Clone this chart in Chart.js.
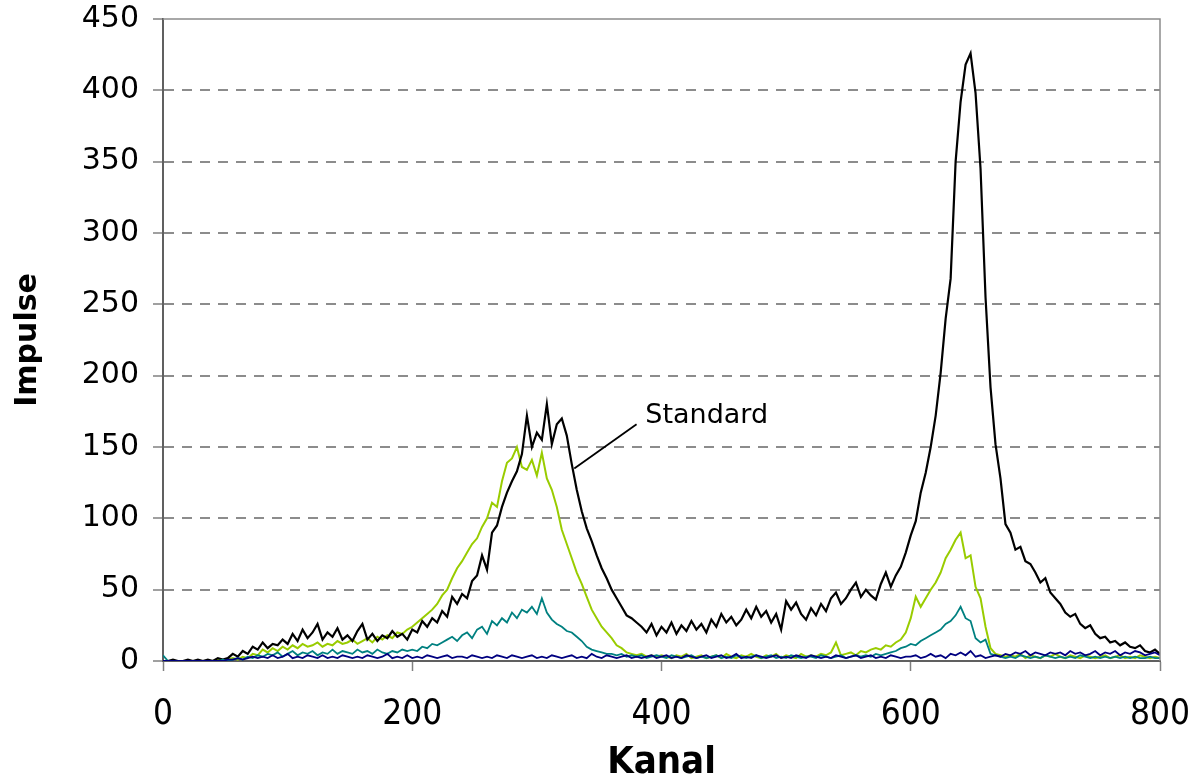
<!DOCTYPE html>
<html>
<head>
<meta charset="utf-8">
<script src="https://cdn.jsdelivr.net/npm/chart.js@4"></script>
<style>
  html, body { margin: 0; padding: 0; background: #fff; }
  #wrap { width: 1199px; height: 780px; }
</style>
</head>
<body>
<div id="wrap"><canvas id="spektrum"></canvas></div>
<script>
// channel grid: one reading every 4 channels, 0..800
const kanal = Array.from({ length: 201 }, (_, i) => i * 4);

// black curve, labelled "Standard"
const standard = [
  0, 0, 1, 0, 0, 1, 0, 1, 0, 1,
  0, 2, 1, 2, 5, 3, 7, 5, 10, 8,
  13, 9, 12, 11, 15, 12, 19, 14, 22, 16,
  20, 26, 15, 20, 17, 23, 15, 18, 14, 21,
  26, 15, 19, 14, 18, 16, 21, 17, 19, 15,
  22, 20, 28, 24, 30, 27, 35, 31, 45, 40,
  47, 44, 56, 60, 74, 64, 90, 95, 108, 118,
  126, 133, 145, 172, 150, 160, 155, 180, 152, 166,
  170, 158, 138, 120, 105, 93, 84, 74, 65, 58,
  50, 44, 38, 32, 30, 27, 24, 20, 26, 18,
  24, 20, 27, 19, 25, 21, 28, 22, 26, 20,
  29, 24, 33, 27, 31, 25, 29, 36, 30, 38,
  31, 35, 27, 33, 22, 42, 36, 41, 33, 29,
  37, 32, 40, 35, 44, 48, 40, 44, 50, 55,
  45, 50, 46, 43, 54, 62, 52, 60, 66, 76,
  88, 98, 118, 132, 150, 172, 202, 240, 268, 350,
  392, 418, 426, 398, 345, 255, 192, 152, 128, 96,
  90, 78, 80, 70, 68, 62, 55, 58, 48, 44,
  40, 34, 31, 33, 26, 23, 25, 19, 16, 17,
  13, 14, 11, 13, 10, 9, 11, 7, 6, 8,
  5
];

// yellow-green curve
const probeGruen = [
  0, 0, 0, 0, 0, 0, 0, 0, 0, 0,
  0, 1, 0, 1, 2, 1, 3, 2, 5, 4,
  8, 6, 9, 7, 10, 8, 11, 9, 12, 10,
  11, 13, 10, 12, 11, 14, 12, 13, 15, 12,
  14, 16, 13, 17, 15, 18, 16, 20, 19, 22,
  24, 27, 30, 33, 36, 40, 46, 50, 58, 65,
  70, 76, 82, 86, 94, 100, 111, 108, 126, 139,
  142, 150, 136, 134, 141, 130, 146, 128, 120, 108,
  92, 82, 72, 62, 54, 45, 36, 30, 24, 20,
  16, 11, 9, 6, 5, 4, 5, 3, 4, 3,
  4, 3, 2, 4, 3, 5, 2, 3, 4, 2,
  3, 4, 2, 5, 3, 2, 4, 3, 5, 3,
  2, 4, 3, 5, 2, 4, 3, 2, 5, 3,
  4, 3, 5, 4, 6, 13, 4, 5, 6, 4,
  7, 6, 8, 9, 8, 11, 10, 13, 15, 20,
  30, 45, 38, 44, 50, 55, 62, 72, 78, 85,
  90, 72, 74, 52, 44, 24, 9, 5, 4, 3,
  4, 3, 5, 2, 4, 3, 2, 4, 3, 5,
  3, 2, 4, 3, 2, 4, 3, 2, 3, 4,
  2, 3, 4, 2, 3, 2, 4, 3, 2, 3,
  2
];

// teal curve
const probeTuerkis = [
  4, 0, 0, 0, 0, 0, 0, 0, 0, 0,
  0, 0, 1, 0, 1, 2, 1, 3, 2, 4,
  3, 5, 4, 6, 3, 5, 7, 4, 6, 5,
  7, 4, 6, 5, 8, 5, 7, 6, 5, 8,
  6, 7, 5, 8, 6, 5, 7, 6, 8, 7,
  8, 7, 10, 9, 12, 11, 13, 15, 17, 14,
  18, 20, 16, 22, 24, 19, 28, 25, 30, 27,
  34, 30, 36, 34, 38, 33, 44, 34, 29, 26,
  24, 21, 20, 17, 14, 10, 8, 7, 6, 5,
  5, 4, 5, 3, 4, 3, 4, 2, 3, 4,
  3, 2, 4, 3, 2, 3, 4, 2, 3, 2,
  3, 4, 2, 3, 2, 4, 3, 2, 3, 4,
  2, 3, 4, 2, 3, 2, 4, 3, 2, 3,
  3, 2, 4, 3, 2, 3, 4, 2, 3, 4,
  3, 4, 3, 5, 4, 5, 6, 7, 9, 10,
  12, 11, 14, 16, 18, 20, 22, 26, 28, 32,
  38, 30, 28, 16, 13, 15, 5, 4, 3, 2,
  3, 2, 4, 3, 2, 3, 2, 4, 3, 2,
  3, 2, 3, 2, 4, 3, 2, 3, 2, 3,
  2, 3, 2, 3, 2, 3, 2, 2, 3, 2,
  2
];

// dark blue curve
const probeBlau = [
  0, 0, 0, 0, 0, 0, 0, 0, 0, 0,
  0, 0, 0, 1, 1, 2, 1, 2, 3, 2,
  3, 2, 4, 2, 3, 5, 2, 3, 2, 4,
  3, 2, 4, 2, 3, 2, 4, 3, 2, 3,
  2, 4, 3, 2, 3, 5, 2, 3, 2, 4,
  2, 3, 2, 4, 3, 2, 3, 4, 2, 3,
  3, 2, 4, 3, 2, 3, 2, 4, 3, 2,
  4, 3, 2, 3, 4, 2, 3, 2, 4, 3,
  2, 3, 4, 2, 3, 2, 5, 3, 2, 4,
  3, 2, 3, 4, 2, 3, 2, 3, 4, 2,
  3, 4, 2, 3, 2, 4, 3, 2, 3, 4,
  2, 3, 4, 2, 3, 5, 2, 3, 2, 4,
  3, 2, 3, 4, 2, 3, 2, 4, 3, 2,
  4, 3, 2, 3, 2, 4, 3, 2, 3, 4,
  2, 3, 4, 2, 3, 2, 4, 3, 2, 3,
  3, 4, 2, 3, 5, 3, 4, 2, 5, 4,
  6, 4, 7, 3, 4, 2, 3, 4, 3, 5,
  4, 6, 5, 7, 4, 6, 5, 4, 6, 5,
  6, 4, 7, 5, 6, 4, 5, 7, 4, 6,
  5, 7, 4, 6, 5, 7, 6, 4, 5, 6,
  4
];

const yTicks = [0, 50, 100, 150, 200, 250, 300, 350, 400, 450];
const xTicks = [0, 200, 400, 600, 800];

// label "Standard" with its leader line, in data units
const standardLabel = { text: "Standard", x: 387, y: 172 };
const standardLeader = { from: [380, 166], to: [330, 135] };

function punkte(werte) {
  return kanal.map((k, i) => ({ x: k, y: werte[i] }));
}

const rahmen = {
  id: "rahmen",
  afterDatasetsDraw(chart) {
    const { ctx, chartArea: a, scales } = chart;
    ctx.save();
    // frame on top and right like the original plot area
    ctx.strokeStyle = "#8c8c8c";
    ctx.lineWidth = 1.5;
    ctx.beginPath();
    ctx.moveTo(a.left, a.top);
    ctx.lineTo(a.right, a.top);
    ctx.lineTo(a.right, a.bottom);
    ctx.stroke();

    const xs = scales.x, ys = scales.y;
    ctx.strokeStyle = "#000";
    ctx.lineWidth = 1.8;
    ctx.beginPath();
    ctx.moveTo(xs.getPixelForValue(standardLeader.from[0]), ys.getPixelForValue(standardLeader.from[1]));
    ctx.lineTo(xs.getPixelForValue(standardLeader.to[0]), ys.getPixelForValue(standardLeader.to[1]));
    ctx.stroke();

    ctx.fillStyle = "#000";
    ctx.font = "27px 'DejaVu Sans', Verdana, sans-serif";
    ctx.textBaseline = "middle";
    ctx.textAlign = "left";
    ctx.fillText(standardLabel.text, xs.getPixelForValue(standardLabel.x), ys.getPixelForValue(standardLabel.y));
    ctx.restore();
  }
};

const ctx = document.getElementById("spektrum").getContext("2d");
new Chart(ctx, {
  type: "line",
  data: {
    datasets: [
      { label: "Blau", data: punkte(probeBlau), borderColor: "#000080", borderWidth: 1.8, order: 0 },
      { label: "Türkis", data: punkte(probeTuerkis), borderColor: "#008080", borderWidth: 1.8, order: 1 },
      { label: "Standard", data: punkte(standard), borderColor: "#000000", borderWidth: 2.2, order: 2 },
      { label: "Grün", data: punkte(probeGruen), borderColor: "#99cc00", borderWidth: 2, order: 3 }
    ]
  },
  options: {
    responsive: true,
    maintainAspectRatio: false,
    animation: false,
    layout: { padding: { top: 19, right: 39, left: 0, bottom: 0 } },
    elements: {
      point: { radius: 0 },
      line: { tension: 0 }
    },
    plugins: {
      legend: { display: false },
      tooltip: { enabled: false }
    },
    scales: {
      x: {
        type: "linear",
        min: 0,
        max: 800,
        afterFit(scale) {
          scale.height = 119;
          scale.paddingLeft = 0;
          scale.paddingRight = 0;
        },
        afterBuildTicks(scale) { scale.ticks = xTicks.map(v => ({ value: v })); },
        grid: {
          drawOnChartArea: false,
          drawTicks: true,
          tickLength: 10,
          tickColor: "#808080",
          tickWidth: 1.5
        },
        border: { display: true, color: "#606060", width: 2 },
        ticks: {
          color: "#000",
          padding: 23,
          font: { family: "'Liberation Sans Narrow', 'DejaVu Sans Condensed', sans-serif", size: 35 }
        },
        title: {
          display: true,
          text: "Kanal",
          color: "#000",
          padding: { top: 0, bottom: 0 },
          font: { family: "'Liberation Sans Narrow', 'DejaVu Sans Condensed', sans-serif", size: 38, weight: "bold", lineHeight: 0.9 }
        }
      },
      y: {
        min: 0,
        max: 450,
        afterFit(scale) {
          scale.width = 163;
          scale.paddingTop = 0;
          scale.paddingBottom = 0;
        },
        afterBuildTicks(scale) { scale.ticks = yTicks.map(v => ({ value: v })); },
        grid: {
          color: c => (c.tick && (c.tick.value === 0 || c.tick.value === 450)) ? "rgba(0,0,0,0)" : "#8c8c8c",
          lineWidth: 2,
          drawTicks: true,
          tickLength: 10,
          tickColor: "#808080",
          tickWidth: 1.5,
          tickBorderDash: []
        },
        border: { display: true, color: "#606060", width: 2, dash: [10, 8] },
        ticks: {
          color: "#000",
          padding: 14,
          font: { family: "'DejaVu Sans', Verdana, sans-serif", size: 30 }
        },
        title: {
          display: true,
          text: "Impulse",
          color: "#000",
          padding: { top: 10, bottom: 0 },
          font: { family: "'DejaVu Sans', Verdana, sans-serif", size: 30, weight: "bold" }
        }
      }
    }
  },
  plugins: [rahmen]
});
</script>
</body>
</html>
